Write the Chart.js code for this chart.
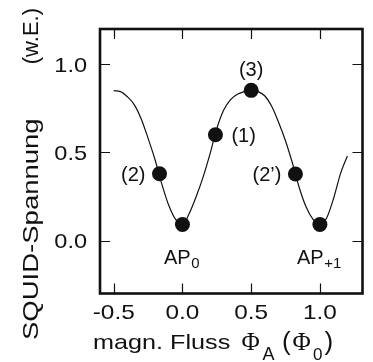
<!DOCTYPE html>
<html>
<head>
<meta charset="utf-8">
<script src="https://cdn.jsdelivr.net/npm/chart.js@4"></script>
<style>
  html, body { margin: 0; padding: 0; background: #fff; }
  #wrap { width: 373px; height: 362px; }
</style>
</head>
<body>
<div id="wrap"><canvas id="c"></canvas></div>
<script>
// SQUID voltage vs. applied flux
const fluxX = [-0.50, -0.45, -0.40, -0.35, -0.30, -0.25, -0.20, -0.15, -0.10, -0.05,
               0.00, 0.05, 0.10, 0.15, 0.20, 0.25, 0.30, 0.35, 0.40, 0.45,
               0.50, 0.55, 0.60, 0.65, 0.70, 0.75, 0.80, 0.85, 0.90, 0.95,
               1.00, 1.05, 1.10, 1.15, 1.20];
const voltY = [0.850, 0.845, 0.815, 0.770, 0.690, 0.580, 0.460, 0.320, 0.200, 0.120,
               0.090, 0.155, 0.250, 0.360, 0.490, 0.635, 0.740, 0.800, 0.830, 0.845,
               0.850, 0.845, 0.820, 0.760, 0.670, 0.565, 0.440, 0.300, 0.190, 0.120,
               0.090, 0.130, 0.240, 0.380, 0.480];

// working points marked on the curve
const pointX = [-0.167, 0.0, 0.24, 0.5, 0.822, 1.0];
const pointY = [0.379, 0.091, 0.600, 0.852, 0.378, 0.091];
const pointText = ['(2)', 'AP', '(1)', '(3)', '(2\u2019)', 'AP'];
const pointSub = ['', '0', '', '', '', '+1'];

const xTicks = [-0.5, 0.0, 0.5, 1.0];
const yTicks = [0.0, 0.5, 1.0];

const SANS = '"Liberation Sans", Arial, sans-serif';
const SERIF = '"Liberation Serif", "Times New Roman", serif';
const INK = '#111';

// text widened along its own direction (the figure lettering runs wide)
function wideText(ctx, text, x, y, k, align, rot) {
  ctx.save();
  ctx.translate(x, y);
  if (rot) ctx.rotate(rot);
  ctx.scale(k, 1);
  ctx.textAlign = align;
  ctx.textBaseline = 'alphabetic';
  ctx.fillText(text, 0, 0);
  ctx.restore();
  return ctx.measureText(text).width * k;
}

const framePlugin = {
  id: 'frame',
  afterDraw(chart) {
    const ctx = chart.ctx;
    const a = chart.chartArea;
    const xs = chart.scales.x, ys = chart.scales.y;
    ctx.save();
    ctx.fillStyle = INK;
    ctx.strokeStyle = INK;

    // inward ticks on all four sides
    ctx.lineWidth = 1.2;
    ctx.beginPath();
    xTicks.forEach(v => {
      const px = Math.round(xs.getPixelForValue(v)) + 0.5;
      ctx.moveTo(px, a.bottom); ctx.lineTo(px, a.bottom - 10);
      ctx.moveTo(px, a.top); ctx.lineTo(px, a.top + 10);
    });
    yTicks.forEach(v => {
      const py = Math.round(ys.getPixelForValue(v)) + 0.5;
      ctx.moveTo(a.left, py); ctx.lineTo(a.left + 10, py);
      ctx.moveTo(a.right, py); ctx.lineTo(a.right - 10, py);
    });
    ctx.stroke();

    // box
    ctx.lineWidth = 2.6;
    ctx.strokeRect(a.left, a.top, a.right - a.left, a.bottom - a.top);

    // tick labels
    ctx.font = '21px ' + SANS;
    xTicks.forEach(v => {
      wideText(ctx, v.toFixed(1), xs.getPixelForValue(v), 318.5, 1.16, 'center');
    });
    yTicks.forEach(v => {
      wideText(ctx, v.toFixed(1), 87, ys.getPixelForValue(v) + 7.5, 1.12, 'right');
    });

    // x axis title
    let cx = 93;
    ctx.font = '21px ' + SANS;
    wideText(ctx, 'magn. Fluss', cx, 348.5, 1.2, 'left');
    ctx.font = '25px ' + SERIF;
    wideText(ctx, '\u03A6', 241.5, 350, 1, 'left');
    ctx.font = '18px ' + SANS;
    wideText(ctx, 'A', 262.5, 360, 1, 'left');
    ctx.font = '26px ' + SANS;
    wideText(ctx, '(', 282, 350, 1, 'left');
    ctx.font = '25px ' + SERIF;
    wideText(ctx, '\u03A6', 292.5, 350, 1, 'left');
    ctx.font = '17px ' + SANS;
    wideText(ctx, '0', 313, 360, 1, 'left');
    ctx.font = '26px ' + SANS;
    wideText(ctx, ')', 324.5, 350, 1, 'left');

    // y axis title, reading upwards
    ctx.font = '22px ' + SANS;
    wideText(ctx, 'SQUID-Spannung', 38, 340, 1.25, 'left', -Math.PI / 2);
    wideText(ctx, '(w.E.)', 38, 8, 1.0, 'right', -Math.PI / 2);

    // point labels
    const meta = chart.getDatasetMeta(1).data;
    ctx.font = '20px ' + SANS;
    meta.forEach((el, i) => {
      const px = el.x, py = el.y;
      const t = pointText[i], s = pointSub[i];
      if (s) {
        ctx.font = '20px ' + SANS;
        const w1 = ctx.measureText(t).width;
        ctx.font = '15px ' + SANS;
        const w2 = ctx.measureText(s).width;
        const x0 = px - (w1 + w2) / 2 - 1;
        ctx.font = '20px ' + SANS;
        wideText(ctx, t, x0, py + 39, 1, 'left');
        ctx.font = '15px ' + SANS;
        wideText(ctx, s, x0 + w1 + 0.5, py + 43.5, 1, 'left');
      } else {
        ctx.font = '20px ' + SANS;
        if (t === '(1)') wideText(ctx, t, px + 16, py + 7, 1, 'left');
        else if (t === '(3)') wideText(ctx, t, px, py - 14, 1, 'center');
        else wideText(ctx, t, px - 14, py + 7, 1, 'right');
      }
    });
    ctx.restore();
  }
};

new Chart(document.getElementById('c'), {
  type: 'scatter',
  data: {
    datasets: [
      {
        data: fluxX.map((x, i) => ({ x: x, y: voltY[i] })),
        showLine: true,
        borderColor: '#111',
        borderWidth: 1.2,
        pointRadius: 0,
        cubicInterpolationMode: 'monotone'
      },
      {
        data: pointX.map((x, i) => ({ x: x, y: pointY[i] })),
        pointRadius: 7.5,
        pointBackgroundColor: '#111',
        pointBorderColor: '#111',
        pointBorderWidth: 0
      }
    ]
  },
  options: {
    responsive: true,
    maintainAspectRatio: false,
    animation: false,
    layout: { padding: { top: 29, right: 10.5, left: 0, bottom: 0 } },
    plugins: { legend: { display: false }, tooltip: { enabled: false } },
    scales: {
      x: {
        type: 'linear', min: -0.6, max: 1.31,
        grid: { display: false }, border: { display: false },
        ticks: { display: false },
        afterFit(s) { s.height = 68.5; }
      },
      y: {
        min: -0.3, max: 1.2,
        grid: { display: false }, border: { display: false },
        ticks: { display: false },
        afterFit(s) { s.width = 100; }
      }
    }
  },
  plugins: [framePlugin]
});
</script>
</body>
</html>
